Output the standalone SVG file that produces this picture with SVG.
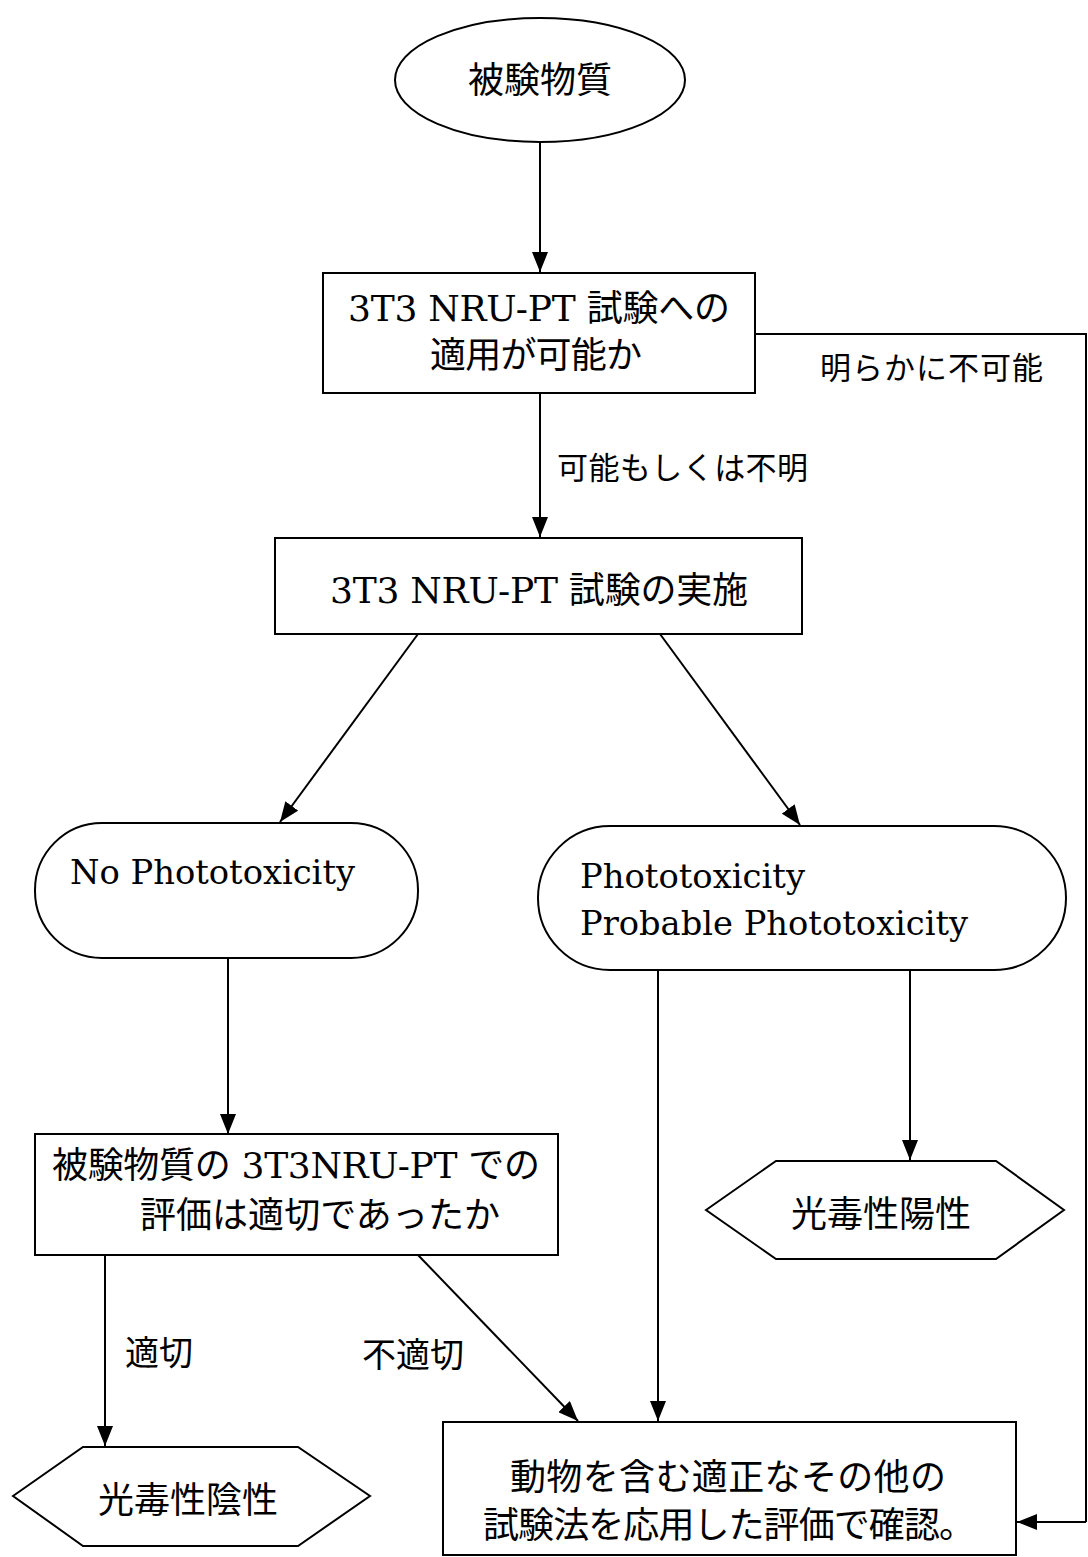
<svg xmlns="http://www.w3.org/2000/svg" width="1088" height="1557" viewBox="0 0 1088 1557">
<style>
.s{fill:#fff;stroke:#000;stroke-width:2}
.c{fill:none;stroke:#000;stroke-width:2}
.t{font-family:"DejaVu Serif","Noto Sans CJK JP",serif;font-size:36px;fill:#000}
.e{font-size:34px}
.l{font-family:"Noto Sans CJK JP",sans-serif;font-size:31px;fill:#000}
.k{font-size:34px}
.m{text-anchor:middle}
</style>
<defs>
<marker id="a" markerUnits="userSpaceOnUse" markerWidth="22" markerHeight="16" refX="20" refY="8" orient="auto">
<path d="M0,0 L20,8 L0,16 Z" fill="#000"/>
</marker>
</defs>
<rect width="1088" height="1557" fill="#fff"/>
<g id="connectors">
<line class="c" x1="540" y1="142" x2="540" y2="272" marker-end="url(#a)"/>
<polyline class="c" points="755,334 1086,334 1086,1522"/>
<line class="c" x1="1086" y1="1522" x2="1017" y2="1522" marker-end="url(#a)"/>
<line class="c" x1="540" y1="393" x2="540" y2="537" marker-end="url(#a)"/>
<line class="c" x1="418" y1="634" x2="280" y2="822" marker-end="url(#a)"/>
<line class="c" x1="660" y1="634" x2="800" y2="825" marker-end="url(#a)"/>
<line class="c" x1="228" y1="958" x2="228" y2="1134" marker-end="url(#a)"/>
<line class="c" x1="658" y1="970" x2="658" y2="1421" marker-end="url(#a)"/>
<line class="c" x1="910" y1="970" x2="910" y2="1160" marker-end="url(#a)"/>
<line class="c" x1="105" y1="1255" x2="105" y2="1446" marker-end="url(#a)"/>
<line class="c" x1="418" y1="1255" x2="578" y2="1421" marker-end="url(#a)"/>
<text class="l" x="820" y="379" textLength="223">明らかに不可能</text>
<text class="l" x="557" y="479" textLength="251">可能もしくは不明</text>
<text class="l k" x="125" y="1365">適切</text>
<text class="l k" x="362" y="1367">不適切</text>
</g>
<g id="start">
<ellipse class="s" cx="540" cy="80" rx="145" ry="62"/>
<text class="t m" x="540" y="93">被験物質</text>
</g>
<g id="applicable">
<rect class="s" x="323" y="273" width="432" height="120"/>
<text class="t" x="348" y="321" textLength="382">3T3 NRU-PT 試験への</text>
<text class="t" x="430" y="368" textLength="212">適用が可能か</text>
</g>
<g id="perform">
<rect class="s" x="275" y="538" width="527" height="96"/>
<text class="t" x="330" y="603" textLength="418">3T3 NRU-PT 試験の実施</text>
</g>
<g id="nophoto">
<rect class="s" x="35" y="823" width="383" height="135" rx="67" ry="67"/>
<text class="t e" x="70" y="884" textLength="285" lengthAdjust="spacingAndGlyphs">No Phototoxicity</text>
</g>
<g id="photo">
<rect class="s" x="538" y="826" width="528" height="144" rx="72" ry="72"/>
<text class="t e" x="580" y="888" textLength="225" lengthAdjust="spacingAndGlyphs">Phototoxicity</text>
<text class="t e" x="580" y="935" textLength="388" lengthAdjust="spacingAndGlyphs">Probable Phototoxicity</text>
</g>
<g id="adequate">
<rect class="s" x="35" y="1134" width="523" height="121"/>
<text class="t" x="52" y="1178" textLength="488">被験物質の 3T3NRU-PT での</text>
<text class="t" x="140" y="1228" textLength="360">評価は適切であったか</text>
</g>
<g id="positive">
<polygon class="s" points="706,1210 776,1161 996,1161 1064,1210 996,1259 776,1259"/>
<text class="t m" x="881" y="1227">光毒性陽性</text>
</g>
<g id="negative">
<polygon class="s" points="13,1496 83,1447 298,1447 370,1496 298,1546 83,1546"/>
<text class="t m" x="188" y="1513">光毒性陰性</text>
</g>
<g id="confirm">
<rect class="s" x="443" y="1422" width="573" height="133"/>
<text class="t m" x="728" y="1490" textLength="436">動物を含む適正なその他の</text>
<text class="t m" x="729" y="1538" textLength="492">試験法を応用した評価で確認。</text>
</g>
</svg>
